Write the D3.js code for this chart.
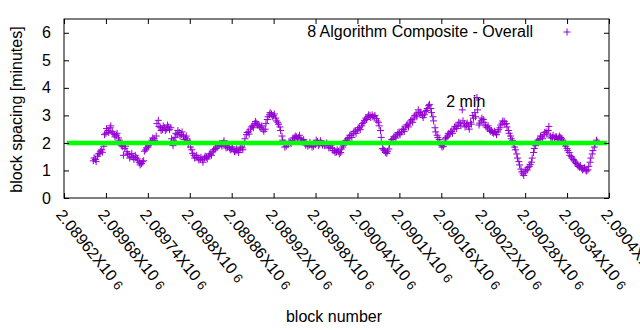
<!DOCTYPE html>
<html><head><meta charset="utf-8">
<script src="https://cdn.jsdelivr.net/npm/d3@7"></script>
<style>
html,body{margin:0;padding:0;background:#fff;}
text{font-family:"Liberation Sans",Arial,sans-serif;}
</style></head>
<body><svg id="c" width="640" height="330"></svg>
<script>
// ---- data ----
const blockStart = 2089662, blockStep = 3;
const spacing = [
1.35,1.40,1.52,1.62,1.75,1.88,2.35,2.45,2.55,2.42,
2.30,2.28,2.18,2.00,1.86,1.80,1.68,1.58,1.50,1.48,
1.55,1.42,1.28,1.25,1.35,1.75,1.85,1.95,2.10,2.15,
2.25,2.82,2.55,2.48,2.55,2.50,2.58,2.55,1.90,2.20,
2.30,2.38,2.30,2.25,2.18,2.10,2.05,1.75,1.55,1.48,
1.45,1.40,1.38,1.45,1.48,1.52,1.60,1.68,1.75,1.85,
1.90,1.95,2.00,1.90,1.85,1.82,1.78,1.75,1.70,1.72,
1.78,1.82,1.98,2.30,2.40,2.50,2.62,2.70,2.72,2.65,
2.55,2.48,2.50,2.85,3.02,3.05,2.98,2.90,2.75,2.58,
2.25,2.00,1.88,1.95,2.02,2.10,2.18,2.22,2.20,2.15,
2.08,2.00,1.95,1.92,1.95,1.88,1.95,2.05,1.95,2.00,
1.98,1.92,1.90,1.85,1.80,1.72,1.67,1.70,1.65,1.85,
2.00,2.10,2.20,2.28,2.35,2.42,2.48,2.55,2.62,2.75,
2.90,2.95,3.00,3.02,2.95,2.88,2.75,2.45,1.80,1.72,
1.62,1.78,2.05,2.15,2.25,2.30,2.35,2.40,2.48,2.58,
2.65,2.72,2.85,2.90,3.05,3.20,3.12,3.00,3.02,3.18,
3.35,3.25,2.95,2.55,2.28,2.12,1.92,1.88,2.15,2.25,
2.32,2.42,2.50,2.60,2.65,2.72,3.20,2.70,2.65,2.60,
2.75,3.00,3.10,3.65,2.65,2.80,2.85,2.65,2.55,2.50,
2.45,2.35,2.38,2.40,2.55,2.72,2.78,2.70,2.45,2.25,
2.08,1.85,1.60,1.32,1.05,0.88,0.95,1.02,1.15,1.30,
1.65,1.90,2.10,2.15,2.22,2.30,2.40,2.45,2.25,2.20,
2.15,2.22,2.18,2.20,2.10,1.95,1.80,1.65,1.50,1.40,
1.30,1.20,1.12,1.08,1.05,1.00,1.02,1.30,1.60,1.85,
2.10];
// in-between blocks (offset by one block)
const spacingB = [
1.45,1.32,1.60,1.70,1.66,2.30,2.52,2.38,2.62,2.35,
2.22,2.35,2.10,1.90,1.55,1.88,1.60,1.45,1.62,1.40,
1.48,1.35,1.20,1.32,1.70,1.82,1.90,2.05,2.18,2.08,
2.70,2.60,2.45,2.62,2.45,2.65,2.48,2.15,2.10,2.35,
2.45,2.25,2.40,2.12,2.25,1.95,1.85,1.62,1.45,1.55,
1.38,1.48,1.30,1.52,1.42,1.60,1.55,1.75,1.80,1.92,
1.98,1.88,2.08,1.82,1.95,1.75,1.85,1.68,1.78,1.65,
1.85,1.75,2.15,2.38,2.32,2.58,2.55,2.78,2.65,2.58,
2.62,2.42,2.70,2.95,3.10,2.95,3.05,2.80,2.68,2.45,
2.10,1.85,1.95,2.05,1.98,2.18,2.25,2.15,2.28,2.05,
2.12,1.92,1.88,2.02,1.85,1.98,2.10,1.90,2.08,1.92,
1.90,2.00,1.82,1.92,1.72,1.65,1.75,1.60,1.78,1.92,
2.08,2.15,2.28,2.20,2.42,2.35,2.55,2.48,2.70,2.82,
2.85,3.02,2.92,2.95,3.00,2.80,2.62,2.20,1.75,1.65,
1.70,1.95,2.12,2.22,2.18,2.38,2.30,2.50,2.42,2.65,
2.58,2.80,2.75,3.00,2.95,3.10,3.05,2.92,3.15,3.25,
3.40,3.10,2.80,2.40,2.20,2.00,1.85,2.00,2.20,2.35,
2.40,2.35,2.58,2.52,2.75,2.62,2.80,2.58,2.72,2.50,
2.68,2.90,2.95,3.20,2.72,2.90,2.75,2.58,2.62,2.42,
2.38,2.42,2.30,2.48,2.65,2.80,2.68,2.58,2.35,2.15,
1.95,1.75,1.45,1.20,0.95,0.82,1.02,1.10,1.22,1.45,
1.80,2.02,2.05,2.25,2.15,2.38,2.32,2.60,2.18,2.28,
2.22,2.12,2.25,2.15,2.02,1.88,1.72,1.55,1.45,1.35,
1.25,1.15,1.18,1.02,1.10,0.98,1.15,1.45,1.72,1.95,
2.05];
const blocks = spacing.map((_, i) => blockStart + i * blockStep);
const blocksB = spacingB.map((_, i) => blockStart + 1 + i * blockStep);
const xTicks = [2089620,2089680,2089740,2089800,2089860,2089920,2089980,2090040,2090100,2090160,2090220,2090280,2090340,2090400];
const yTicks = [0,1,2,3,4,5,6];
const targetLine = [{block: 2089624, value: 2}, {block: 2090397, value: 2}];
const seriesName = "8 Algorithm Composite - Overall";
const noteText = "2 min";
const noteAt = {block: 2090167, value: 3.31};

// ---- layout ----
const L = 64, R = 609, T = 19, B = 198;
const FS = 16;
const svg = d3.select("#c");
const x = d3.scaleLinear().domain([2089620, 2090400]).range([L, R]);
const y = d3.scaleLinear().domain([0, 6.5]).range([B, T]);
const purple = "#9400d3";

// points
const pts = svg.append("g");
const allPts = blocks.map((b, i) => [b, spacing[i]]).concat(blocksB.map((b, i) => [b, spacingB[i]]));
allPts.forEach(([b, v]) => {
  const cx = x(b), cy = y(v);
  pts.append("path").attr("d", `M${cx-3.5},${cy}h7M${cx},${cy-3.5}v7`)
    .attr("stroke", purple).attr("stroke-width", 1).attr("fill", "none");
});

// target line
svg.append("path").datum(targetLine)
  .attr("d", d3.line().x(d => x(d.block)).y(d => y(d.value)))
  .attr("stroke", "#00ff00").attr("stroke-width", 4.5).attr("fill", "none");

// axes
const yAxis = svg.append("g").attr("transform", `translate(${L},0)`)
  .call(d3.axisLeft(y).tickValues(yTicks).tickSize(-5).tickPadding(13).tickFormat(d3.format("d")));
const yAxisR = svg.append("g").attr("transform", `translate(${R},0)`)
  .call(d3.axisRight(y).tickValues(yTicks).tickSize(-5).tickFormat(""));
const xAxis = svg.append("g").attr("transform", `translate(0,${B})`)
  .call(d3.axisBottom(x).tickValues(xTicks).tickSize(-5).tickFormat(""));
const xAxisT = svg.append("g").attr("transform", `translate(0,${T})`)
  .call(d3.axisTop(x).tickValues(xTicks).tickSize(-5).tickFormat(""));
[yAxis, yAxisR, xAxis, xAxisT].forEach(g => {
  g.select(".domain").remove();
  g.selectAll("line").attr("stroke", "#000");
});
yAxis.selectAll("text").attr("font-size", FS).attr("fill", "#000")
  .attr("font-family", "Liberation Sans, Arial, sans-serif");

// x tick labels rotated
const xl = svg.append("g").selectAll("text").data(xTicks).join("text")
  .attr("transform", d => `translate(${x(d)},${B + 10}) rotate(51)`)
  .attr("dy", "0.7em")
  .attr("font-size", FS).attr("fill", "#000");
xl.append("tspan").text(d => (+(d / 1e6).toFixed(5)) + "X10");
xl.append("tspan").attr("dx", 4).attr("font-size", 13).text("6");

// frame
svg.append("rect").attr("x", L).attr("y", T).attr("width", R - L).attr("height", B - T)
  .attr("fill", "none").attr("stroke", "#000").attr("stroke-width", 1);

// axis titles
svg.append("text").attr("transform", `translate(22,${(T + B) / 2 + 1}) rotate(-90)`)
  .attr("text-anchor", "middle").attr("font-size", FS).text("block spacing [minutes]");
svg.append("text").attr("x", 334).attr("y", 322).attr("text-anchor", "middle")
  .attr("font-size", FS).text("block number");

// legend
svg.append("text").attr("x", 533).attr("y", 36.5).attr("text-anchor", "end")
  .attr("font-size", FS).text(seriesName);
svg.append("path").attr("d", `M${567-3.5},32h7M567,${32-3.5}v7`)
  .attr("stroke", purple).attr("stroke-width", 1);

// note
svg.append("text").attr("x", x(noteAt.block)).attr("y", y(noteAt.value))
  .attr("font-size", FS).text(noteText);
</script></body></html>
